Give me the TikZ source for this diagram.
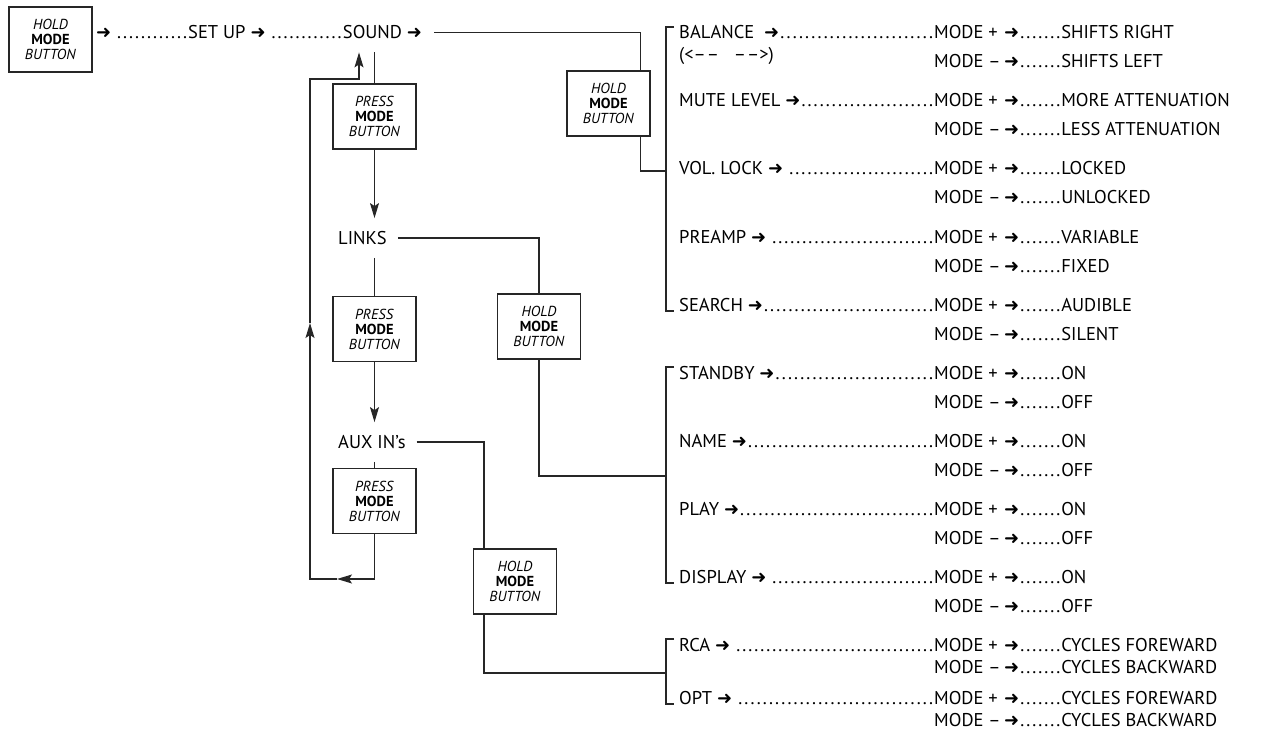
\documentclass[tikz,border=0pt]{standalone}
\usepackage{fontspec}
\setmainfont{PT Sans}
\newfontfamily\symfont{DejaVu Sans}
\usetikzlibrary{arrows.meta}

\newcommand\chevarr{{\symfont\fontsize{18}{18}\selectfont ➜}}
\newcommand\dotrun[1]{\hbox to \dimexpr 6pt*#1\relax{\leaders\hbox to 6pt{\hss.\hss}\hfill}}
\newcommand\leadto[1]{\makebox[255pt][l]{#1\xleaders\hbox to 6pt{\hss.\hss}\hfill}}
\newcommand\modep{\makebox[70pt][l]{MODE +}\chevarr\dotrun{7}}
\newcommand\modem{\makebox[70pt][l]{MODE –}\chevarr\dotrun{7}}
\newcommand\holdtxt{\textit{HOLD}\\\textbf{MODE}\\\textit{BUTTON}}
\newcommand\presstxt{\textit{PRESS}\\\textbf{MODE}\\\textit{BUTTON}}

\begin{document}
\begin{tikzpicture}[
    x=1pt, y=-1pt,
    btn/.style={rectangle, draw=black!85, line width=1.1pt, minimum width=83pt, minimum height=65pt,
                inner sep=0pt, align=center, font=\fontsize{14.5}{15}\selectfont},
    item/.style={inner xsep=0pt, inner ysep=13pt, font=\fontsize{18.5}{20}\selectfont},
    row/.style={inner sep=0pt, anchor=base west, font=\fontsize{18.5}{20}\selectfont},
    link/.style={draw=black!85, line width=1.1pt},
    >={Stealth[length=15pt, width=9pt, inset=3pt]}
]
    \useasboundingbox (0,0) rectangle (1263,730);

    % Buttons
    \node[btn] (hold0) at (50.5,39.5) {\holdtxt};
    \node[btn] (hold1) at (608.5,103.5) {\holdtxt};
    \node[btn] (hold2) at (539,326.5) {\holdtxt};
    \node[btn] (hold3) at (515,581.5) {\holdtxt};
    \node[btn] (press1) at (374.5,116.5) {\presstxt};
    \node[btn] (press2) at (374.5,329) {\presstxt};
    \node[btn] (press3) at (374.5,501) {\presstxt};

    % Menu items
    \node[item, anchor=base west] (setup) at (96,39) {\chevarr\ \dotrun{12}SET UP \chevarr\ \dotrun{12}};
    \node[item, anchor=base west] (sound) at (setup.base east) {SOUND \chevarr};
    \node[item, anchor=west] (links) at (338,238) {LINKS};
    \node[item, anchor=west] (aux) at (338,442) {AUX IN’s};

    % Loop coordinates
    \coordinate (loopA) at (337,579);
    \coordinate (loopB) at (310,579);
    \coordinate (loopC) at (310,323);
    \coordinate (loopD) at (310,79);
    \coordinate (loopE) at (359,79);

    % Bracket joints
    \coordinate (b1) at (666,171);
    \coordinate (b2) at (666,476);
    \coordinate (b3) at (666,673);

    % Press path
    \draw[link] (press1.north) -- (press1.north |- sound.south);
    \draw[link, ->] (press1.south) -- (press1.south |- links.north);
    \draw[link] (press2.north |- links.south) -- (press2.north);
    \draw[link, ->] (press2.south) -- (press2.south |- aux.north);
    \draw[link] (press3.north |- aux.south) -- (press3.north);
    \draw[link, ->] (press3.south) |- (loopA);
    \draw[link, ->] (loopA) -- (loopB) -- (loopC);
    \draw[link, ->] (loopC) -- (loopD) -- (loopE) -- (loopE |- sound.south);

    % Hold path
    \draw[link] ([xshift=12pt]sound.east) -| ([xshift=-10pt]hold1.north east);
    \draw[link] ([xshift=-10pt]hold1.south east) |- (b1);
    \draw[link] ([xshift=11pt]links.east) -| (hold2.north);
    \draw[link] (hold2.south) |- (b2);
    \draw[link] ([xshift=11pt]aux.east) -| ([xshift=11pt]hold3.north west);
    \draw[link] ([xshift=11pt]hold3.south west) |- (b3);

    % Brackets
    \draw[link] (674,27) -- (666,27) -- (666,311) -- (674,311);
    \draw[link] (674,367) -- (666,367) -- (666,583) -- (674,583);
    \draw[link] (674,639) -- (666,639) -- (666,704) -- (674,704);

    % Sound settings
    \node[row] (bal) at (679,39) {\leadto{BALANCE\ \ \chevarr}\modep SHIFTS RIGHT};
    \node[row] (balx) at (679,61) {(<–\kern1pt–\hspace{0.8em}–\kern1pt–>)};
    \node[row] (balm) at (934,68) {\modem SHIFTS LEFT};
    \node[row] (mute) at (679,107) {\leadto{MUTE LEVEL \chevarr}\modep MORE ATTENUATION};
    \node[row] (mutem) at (934,136) {\modem LESS ATTENUATION};
    \node[row] (vol) at (679,175) {\leadto{VOL. LOCK \chevarr\ }\modep LOCKED};
    \node[row] (volm) at (934,204) {\modem UNLOCKED};
    \node[row] (pre) at (679,243) {\leadto{PREAMP \chevarr\ }\modep VARIABLE};
    \node[row] (prem) at (934,272) {\modem FIXED};
    \node[row] (srch) at (679,311) {\leadto{SEARCH \chevarr}\modep AUDIBLE};
    \node[row] (srchm) at (934,340) {\modem SILENT};

    % Links settings
    \node[row] (stby) at (679,379) {\leadto{STANDBY \chevarr}\modep ON};
    \node[row] (stbym) at (934,408) {\modem OFF};
    \node[row] (name) at (679,447) {\leadto{NAME \chevarr}\modep ON};
    \node[row] (namem) at (934,476) {\modem OFF};
    \node[row] (play) at (679,515) {\leadto{PLAY \chevarr}\modep ON};
    \node[row] (playm) at (934,544) {\modem OFF};
    \node[row] (disp) at (679,583) {\leadto{DISPLAY \chevarr\ }\modep ON};
    \node[row] (dispm) at (934,612) {\modem OFF};

    % Aux settings
    \node[row] (rca) at (679,651) {\leadto{RCA \chevarr\ }\modep CYCLES FOREWARD};
    \node[row] (rcam) at (934,673) {\modem CYCLES BACKWARD};
    \node[row] (opt) at (679,704) {\leadto{OPT \chevarr\ }\modep CYCLES FOREWARD};
    \node[row] (optm) at (934,726) {\modem CYCLES BACKWARD};
\end{tikzpicture}
\end{document}
